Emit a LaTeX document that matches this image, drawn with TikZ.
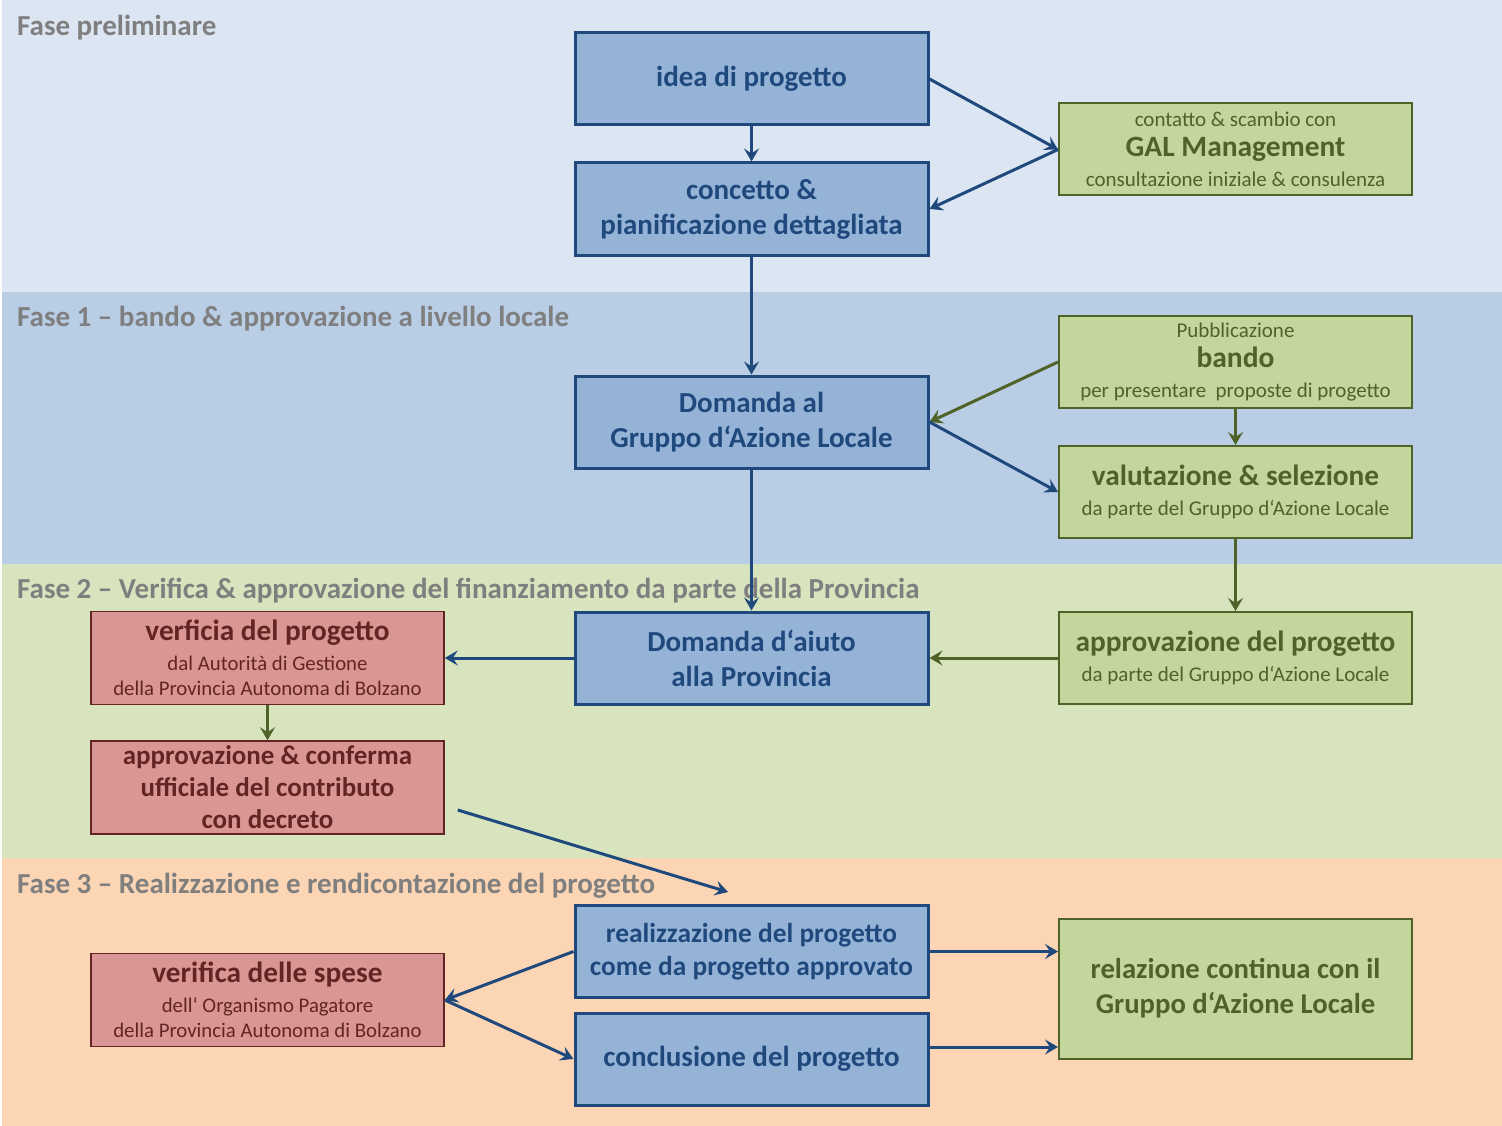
\documentclass[tikz,border=0pt]{standalone}
\usepackage{fontspec}
\setmainfont{Carlito}
\usetikzlibrary{arrows.meta,calc}
\definecolor{bandA}{HTML}{DCE6F2}
\definecolor{bandB}{HTML}{B9CDE5}
\definecolor{bandC}{HTML}{D7E4BD}
\definecolor{bandD}{HTML}{FCD5B5}
\definecolor{labgray}{HTML}{7F7F7F}
\definecolor{bfill}{HTML}{95B3D7}
\definecolor{bdark}{HTML}{1F497D}
\definecolor{gfill}{HTML}{C3D69B}
\definecolor{gdark}{HTML}{4F6228}
\definecolor{rfill}{HTML}{D99694}
\definecolor{rdark}{HTML}{632523}
\newcommand{\bigfs}{\fontsize{29}{35}\selectfont\bfseries}
\newcommand{\smfs}{\fontsize{21}{30}\selectfont}
\newcommand{\hdfs}{\fontsize{29.3}{30}\selectfont\bfseries}
\tikzset{
  bbox/.style={draw=bdark, fill=bfill, line width=3pt, text=bdark, align=center,
    minimum width=353pt, minimum height=92pt, inner sep=0pt, font=\bigfs},
  gbox/.style={draw=gdark, fill=gfill, line width=2pt, text=gdark, align=center,
    minimum width=353pt, minimum height=92pt, inner sep=0pt, font=\smfs},
  rbox/.style={draw=rdark, fill=rfill, line width=1.5pt, text=rdark, align=center,
    minimum width=353pt, minimum height=93pt, inner sep=0pt, font=\smfs},
  phase/.style={anchor=base west, text=labgray, font=\fontsize{29}{30}\selectfont\bfseries, inner sep=0pt},
  barr/.style={draw=bdark, line width=3pt, -{Stealth[length=13pt,width=15pt,inset=5pt]}},
  garr/.style={draw=gdark, line width=3pt, -{Stealth[length=13pt,width=15pt,inset=5pt]}},
}
\begin{document}
\begin{tikzpicture}[x=1pt,y=-1pt]
\useasboundingbox (0,0) rectangle (1502,1126);
\fill[white] (0,0) rectangle (1502,1126);
% bands
\fill[bandA] (2,0) rectangle (1502,292);
\fill[bandB] (2,292) rectangle (1502,564);
\fill[bandC] (2,564) rectangle (1502,858);
\fill[bandD] (2,858) rectangle (1502,1126);
\node[phase] (p0) at (17,36) {Fase preliminare};
\node[phase] (p1) at (17,326) {Fase 1 – bando \& approvazione a livello locale};
\node[phase] (p2) at (17,598) {Fase 2 – Verifica \& approvazione del finanziamento da parte della Provincia};
\node[phase] (p3) at (17,893) {Fase 3 – Realizzazione e rendicontazione del progetto};
% blue boxes
\node[bbox] (idea) at (751.5,79) {idea di progetto};
\node[bbox] (conc) at (751.5,209) {concetto \&\\pianificazione dettagliata};
\node[bbox] (dgal) at (751.5,422) {Domanda al\\Gruppo d‘Azione Locale};
\node[bbox] (daiuto) at (751.5,658) {Domanda d‘aiuto\\alla Provincia};
\node[bbox, font=\fontsize{27.4}{33}\selectfont\bfseries] (real) at (751.5,951.5) {realizzazione del progetto\\come da progetto approvato};
\node[bbox] (concl) at (751.5,1059) {conclusione del progetto};
% green boxes
\node[gbox] (gal) at (1235.5,149.5) {contatto \& scambio con\\{\fontsize{29.5}{30}\selectfont\bfseries GAL Management}\\consultazione iniziale \& consulenza};
\node[gbox] (bando) at (1235.5,362) {Pubblicazione\\{\fontsize{29.5}{30}\selectfont\bfseries bando}\\per presentare \ proposte di progetto};
\node[gbox] (valut) at (1235.5,492) {{\hdfs valutazione \& selezione}\\da parte del Gruppo d‘Azione Locale};
\node[gbox] (appr) at (1235.5,658) {{\hdfs approvazione del progetto}\\da parte del Gruppo d‘Azione Locale};
\node[gbox, minimum height=140pt, font=\fontsize{28.7}{35}\selectfont\bfseries] (rel) at (1235.5,988.5) {relazione continua con il\\Gruppo d‘Azione Locale};
% red boxes
\node[rbox, font=\fontsize{20.8}{25}\selectfont] (verf) at (267.5,658) {{\hdfs verficia del progetto}\\[5pt]dal Autorità di Gestione\\della Provincia Autonoma di Bolzano};
\node[rbox, font=\fontsize{27}{32}\selectfont\bfseries] (conf) at (267.5,787.5) {approvazione \& conferma\\ufficiale del contributo\\con decreto};
\node[rbox, font=\fontsize{20.8}{25}\selectfont] (spese) at (267.5,1000) {{\hdfs verifica delle spese}\\[5pt]dell‘ Organismo Pagatore\\della Provincia Autonoma di Bolzano};
% free-end coordinates
\coordinate (fs) at ($(conf.east)+(13,22.5)$);
\coordinate (fe) at ($(real.north)+(-23.5,-12)$);
% arrows
\draw[barr] (idea.south) -- (conc.north);
\draw[barr] (idea.east) -- (gal.west);
\draw[barr] (gal.west) -- (conc.east);
\draw[barr] (conc.south) -- (dgal.north);
\draw[garr] (bando.west) -- (dgal.east);
\draw[barr] (dgal.east) -- (valut.west);
\draw[garr] (bando.south) -- (valut.north);
\draw[barr] (dgal.south) -- (daiuto.north);
\draw[garr] (valut.south) -- (appr.north);
\draw[garr] (appr.west) -- (daiuto.east);
\draw[barr] (daiuto.west) -- (verf.east);
\draw[garr] (verf.south) -- (conf.north);
\draw[barr] (fs) -- (fe);
\draw[barr] (real.west) -- (spese.east);
\draw[barr] (spese.east) -- (concl.west);
\draw[barr] (real.east) -- (real.east -| rel.west);
\draw[barr] ($(concl.east)+(0,-12)$) -- ($(concl.east -| rel.west)+(0,-12)$);
\end{tikzpicture}
\end{document}
